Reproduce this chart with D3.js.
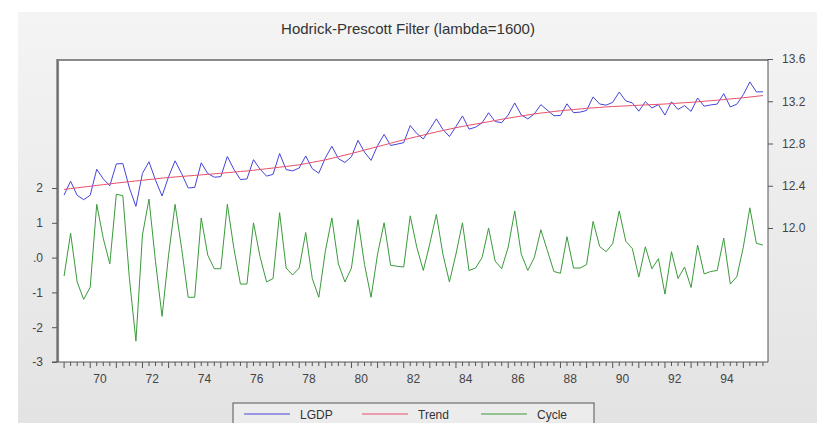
<!DOCTYPE html>
<meta charset="utf-8">
<script src="https://d3js.org/d3.v7.min.js"></script>
<style>
  body { margin: 0; background: #fff; }
  text { font-family: "Liberation Sans", Arial, sans-serif; }
</style>
<div id="my_dataviz"></div>
<script>

    // quarterly data, 1969Q1 - 1995Q4
    var startYear = 1969;

    var cycle = [
        -0.053, 0.070, -0.070, -0.120, -0.085, 0.153, 0.055, -0.018,
        0.182, 0.178, -0.060, -0.240, 0.065, 0.168, -0.012, -0.169,
        0.007, 0.153, 0.026, -0.114, -0.114, 0.114, 0.007, -0.032,
        -0.032, 0.153, 0.026, -0.076, -0.076, 0.100, 0.003, -0.070,
        -0.060, 0.129, -0.030, -0.050, -0.030, 0.072, -0.060, -0.114,
        0.018, 0.114, -0.018, -0.070, -0.030, 0.109, -0.020, -0.114,
        0.010, 0.100, -0.022, -0.025, -0.027, 0.120, 0.030, -0.037,
        0.040, 0.124, 0.010, -0.070, 0.010, 0.100, -0.037, -0.030,
        0.000, 0.085, -0.010, -0.032, 0.030, 0.134, 0.010, -0.037,
        0.000, 0.080, 0.020, -0.040, -0.045, 0.060, -0.030, -0.030,
        -0.020, 0.104, 0.032, 0.017, 0.040, 0.134, 0.047, 0.026,
        -0.056, 0.031, -0.032, -0.003, -0.105, 0.017, -0.060, -0.027,
        -0.086, 0.036, -0.047, -0.040, -0.037, 0.056, -0.076, -0.055,
        0.030, 0.143, 0.041, 0.036
    ];

    var trend = [
        12.365, 12.373, 12.380, 12.388, 12.395, 12.403, 12.410, 12.418,
        12.425, 12.432, 12.439, 12.445, 12.452, 12.459, 12.465, 12.472,
        12.478, 12.483, 12.488, 12.493, 12.498, 12.503, 12.508, 12.513,
        12.518, 12.524, 12.529, 12.535, 12.540, 12.547, 12.554, 12.561,
        12.568, 12.576, 12.583, 12.591, 12.598, 12.610, 12.622, 12.633,
        12.645, 12.660, 12.675, 12.690, 12.705, 12.721, 12.738, 12.754,
        12.770, 12.786, 12.803, 12.819, 12.835, 12.850, 12.865, 12.880,
        12.895, 12.909, 12.923, 12.936, 12.950, 12.961, 12.973, 12.984,
        12.995, 13.006, 13.018, 13.029, 13.040, 13.050, 13.060, 13.070,
        13.080, 13.088, 13.095, 13.103, 13.110, 13.116, 13.122, 13.127,
        13.133, 13.137, 13.142, 13.146, 13.150, 13.153, 13.156, 13.159,
        13.162, 13.165, 13.168, 13.171, 13.174, 13.178, 13.182, 13.186,
        13.190, 13.195, 13.200, 13.205, 13.210, 13.216, 13.222, 13.227,
        13.233, 13.240, 13.247, 13.254
    ];

    var lgdp = [
        12.312, 12.443, 12.310, 12.268, 12.310, 12.556, 12.465, 12.400,
        12.607, 12.610, 12.379, 12.205, 12.517, 12.627, 12.453, 12.303,
        12.485, 12.636, 12.514, 12.379, 12.384, 12.617, 12.515, 12.481,
        12.486, 12.677, 12.555, 12.459, 12.464, 12.647, 12.557, 12.491,
        12.508, 12.705, 12.553, 12.541, 12.568, 12.682, 12.562, 12.519,
        12.663, 12.774, 12.657, 12.620, 12.675, 12.830, 12.718, 12.640,
        12.780, 12.886, 12.781, 12.794, 12.808, 12.970, 12.895, 12.843,
        12.935, 13.033, 12.933, 12.866, 12.960, 13.061, 12.936, 12.954,
        12.995, 13.091, 13.008, 12.997, 13.070, 13.184, 13.070, 13.033,
        13.080, 13.168, 13.115, 13.063, 13.065, 13.176, 13.092, 13.097,
        13.113, 13.241, 13.174, 13.163, 13.190, 13.287, 13.203, 13.185,
        13.106, 13.196, 13.136, 13.168, 13.069, 13.195, 13.122, 13.159,
        13.104, 13.231, 13.153, 13.165, 13.173, 13.272, 13.146, 13.172,
        13.263, 13.383, 13.288, 13.290
    ];

    var yearTicks = [70, 72, 74, 76, 78, 80, 82, 84, 86, 88, 90, 92, 94];
    var leftTicks = [0.2, 0.1, 0, -0.1, -0.2, -0.3];
    var leftLabels = ["2", "1", ".0", "-1", "-2", "-3"];
    var rightTicks = [12.0, 12.4, 12.8, 13.2, 13.6];

    var legendNames = ["LGDP", "Trend", "Cycle"];
    var colors = {LGDP: "#4444dd", Trend: "#e8506a", Cycle: "#3a9a3a"};

    var W = 817, H = 423;
    var plot = {left: 57, right: 768, top: 59, bottom: 362};

    var svg = d3.select("#my_dataviz")
        .append("svg")
        .attr("width", W)
        .attr("height", H);

    // grey window background
    var grad = svg.append("defs").append("linearGradient")
        .attr("id", "bg").attr("x1", 0).attr("y1", 0).attr("x2", 0).attr("y2", 1);
    grad.append("stop").attr("offset", "0%").attr("stop-color", "#f4f4f4");
    grad.append("stop").attr("offset", "100%").attr("stop-color", "#e3e3e3");

    svg.append("rect").attr("width", W).attr("height", H).attr("fill", "#ffffff");
    svg.append("rect")
        .attr("x", 18).attr("y", 12)
        .attr("width", W - 18).attr("height", H - 12)
        .attr("fill", "url(#bg)");

    // title
    svg.append("text")
        .attr("x", 408).attr("y", 34)
        .attr("text-anchor", "middle")
        .style("font-size", "15px")
        .style("fill", "#333")
        .text("Hodrick-Prescott Filter (lambda=1600)");

    // plot area
    svg.append("rect")
        .attr("x", plot.left).attr("y", plot.top)
        .attr("width", plot.right - plot.left)
        .attr("height", plot.bottom - plot.top)
        .attr("fill", "#ffffff");
    svg.append("path")
        .attr("d", "M" + (plot.left + 1) + "," + plot.bottom + "V" + (plot.top + 1) + "H" + plot.right)
        .attr("fill", "none")
        .attr("stroke", "#8a8a8a")
        .attr("stroke-width", 2.2);

    // scales
    var t = cycle.map(function(d, i) { return startYear + i / 4; });

    var x = d3.scaleLinear()
        .domain([1970.375, 1994.375])
        .range([100, 727]);

    var yL = d3.scaleLinear()
        .domain([-0.3, 0.2])
        .range([plot.bottom, 188]);

    var yR = d3.scaleLinear()
        .domain([12.0, 13.6])
        .range([228, plot.top]);

    // left axis
    var gL = svg.append("g")
        .attr("transform", "translate(" + plot.left + ",0)")
        .call(d3.axisLeft(yL)
            .tickValues(leftTicks)
            .tickSize(5)
            .tickPadding(9)
            .tickSizeOuter(0)
            .tickFormat(function(d, i) { return leftLabels[i]; }));

    // right axis
    var gR = svg.append("g")
        .attr("transform", "translate(" + plot.right + ",0)")
        .call(d3.axisRight(yR)
            .tickValues(rightTicks)
            .tickSize(5)
            .tickPadding(9)
            .tickSizeOuter(0)
            .tickFormat(d3.format(".1f")));
    gR.select(".domain").attr("d", "M0," + plot.top + "V" + plot.bottom);

    gL.select(".domain").attr("d", "M0," + plot.top + "V" + plot.bottom);

    [gL, gR].forEach(function(g) {
        g.select(".domain").attr("stroke", "#555");
        g.selectAll(".tick line").attr("stroke", "#555");
        g.selectAll(".tick text")
            .style("font-size", "12px")
            .style("font-family", "'Liberation Sans', Arial, sans-serif")
            .attr("fill", "#444");
    });

    // bottom axis: quarterly ticks, year labels
    var gB = svg.append("g");
    gB.append("line")
        .attr("x1", plot.left - 5).attr("x2", plot.right)
        .attr("y1", plot.bottom).attr("y2", plot.bottom)
        .attr("stroke", "#555");

    gB.selectAll("line.q")
        .data(t)
        .enter()
        .append("line")
        .attr("class", "q")
        .attr("x1", function(d) { return x(d); })
        .attr("x2", function(d) { return x(d); })
        .attr("y1", plot.bottom)
        .attr("y2", function(d, i) { return plot.bottom + (i % 4 == 0 ? 6 : 4); })
        .attr("stroke", "#555");

    gB.selectAll("text")
        .data(yearTicks)
        .enter()
        .append("text")
        .attr("x", function(d) { return x(1900 + d + 0.375); })
        .attr("y", plot.bottom + 21)
        .attr("text-anchor", "middle")
        .style("font-size", "12px")
        .attr("fill", "#444")
        .text(function(d) { return d; });

    // lines
    var lineL = d3.line()
        .x(function(d, i) { return x(t[i]); })
        .y(function(d) { return yL(d); });

    var lineR = d3.line()
        .x(function(d, i) { return x(t[i]); })
        .y(function(d) { return yR(d); });

    svg.append("path")
        .datum(cycle)
        .attr("d", lineL)
        .attr("fill", "none")
        .attr("stroke", colors.Cycle)
        .attr("stroke-width", 1);

    svg.append("path")
        .datum(lgdp)
        .attr("d", lineR)
        .attr("fill", "none")
        .attr("stroke", colors.LGDP)
        .attr("stroke-width", 1);

    svg.append("path")
        .datum(trend)
        .attr("d", lineR)
        .attr("fill", "none")
        .attr("stroke", colors.Trend)
        .attr("stroke-width", 1);

    // legend
    var leg = svg.append("g");
    leg.append("rect")
        .attr("x", 233).attr("y", 403)
        .attr("width", 361).attr("height", 30)
        .attr("fill", "#ececec")
        .attr("stroke", "#555");

    var legX = [244, 362, 481];
    legendNames.forEach(function(name, i) {
        leg.append("line")
            .attr("x1", legX[i]).attr("x2", legX[i] + 46)
            .attr("y1", 414).attr("y2", 414)
            .attr("stroke", colors[name]);
        leg.append("text")
            .attr("x", legX[i] + 56).attr("y", 419)
            .style("font-size", "12px")
            .attr("fill", "#333")
            .text(name);
    });

</script>
